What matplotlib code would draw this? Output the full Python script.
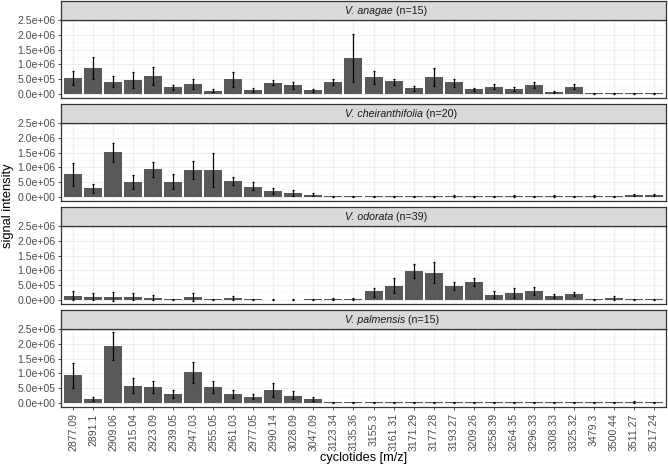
import numpy as np
import matplotlib
matplotlib.use("Agg")
import matplotlib.pyplot as plt
from matplotlib.ticker import FixedLocator, FuncFormatter

plt.rcParams['font.family'] = ['Liberation Sans', 'DejaVu Sans']

# m/z categories
cyclotides = ["2877.09", "2891.1", "2909.06", "2915.04", "2923.09", "2939.05",
              "2947.03", "2955.05", "2961.03", "2977.05", "2990.14", "3028.09",
              "3047.09", "3123.34", "3135.36", "3155.3", "3161.31", "3171.29",
              "3177.28", "3193.27", "3209.26", "3258.39", "3264.35", "3296.33",
              "3308.33", "3325.32", "3479.3", "3500.44", "3511.27", "3517.24"]

species = ["V. anagae", "V. cheiranthifolia", "V. odorata", "V. palmensis"]
n_samples = [15, 20, 39, 15]

# mean signal, lower / upper error (units of 1e6)
anagae_mean = [0.545, 0.875, 0.40, 0.466, 0.60, 0.216, 0.32, 0.10, 0.49, 0.136,
               0.375, 0.284, 0.114, 0.40, 1.216, 0.557, 0.42, 0.18, 0.58, 0.386,
               0.148, 0.24, 0.16, 0.295, 0.07, 0.24, 0.005, 0.005, 0.005, 0.005]
anagae_lo = [0.30, 0.50, 0.22, 0.18, 0.30, 0.125, 0.15, 0.05, 0.24, 0.07,
             0.28, 0.17, 0.06, 0.28, 0.41, 0.33, 0.30, 0.10, 0.27, 0.24,
             0.09, 0.15, 0.08, 0.18, 0.034, 0.14, -0.01, -0.01, -0.01, -0.01]
anagae_hi = [0.77, 1.25, 0.59, 0.75, 0.90, 0.30, 0.49, 0.16, 0.72, 0.20,
             0.47, 0.40, 0.17, 0.51, 2.02, 0.77, 0.50, 0.25, 0.86, 0.50,
             0.19, 0.32, 0.22, 0.40, 0.10, 0.33, 0.02, 0.02, 0.02, 0.02]

cheir_mean = [0.776, 0.285, 1.507, 0.514, 0.925, 0.50, 0.91, 0.91, 0.536, 0.343,
              0.183, 0.114, 0.068, 0.005, 0.005, 0.005, 0.005, 0.01, 0.005, 0.02,
              0.005, 0.005, 0.02, 0.005, 0.02, 0.005, 0.03, 0.005, 0.05, 0.04]
cheir_lo = [0.365, 0.125, 1.19, 0.26, 0.66, 0.25, 0.605, 0.33, 0.40, 0.21,
            0.08, 0.034, 0.03, -0.01, -0.01, -0.01, -0.01, -0.01, -0.01, -0.01,
            -0.01, -0.01, -0.01, -0.01, -0.01, -0.01, 0.0, -0.01, 0.02, 0.01]
cheir_hi = [1.15, 0.445, 1.84, 0.75, 1.19, 0.76, 1.20, 1.49, 0.66, 0.50,
            0.31, 0.217, 0.11, 0.02, 0.02, 0.02, 0.02, 0.03, 0.02, 0.05,
            0.02, 0.02, 0.05, 0.02, 0.05, 0.02, 0.06, 0.02, 0.08, 0.08]

odorata_mean = [0.137, 0.08, 0.10, 0.09, 0.057, 0.01, 0.08, 0.01, 0.046, 0.005,
                0.003, 0.003, 0.01, 0.02, 0.02, 0.285, 0.47, 0.97, 0.913, 0.47,
                0.616, 0.17, 0.228, 0.308, 0.126, 0.183, 0.01, 0.057, 0.005, 0.005]
odorata_lo = [-0.03, -0.03, -0.05, -0.02, -0.01, -0.01, -0.05, -0.01, 0.0, -0.01,
              -0.01, -0.01, -0.01, 0.0, 0.0, 0.10, 0.22, 0.74, 0.56, 0.34,
              0.48, 0.057, 0.057, 0.16, 0.057, 0.114, -0.01, 0.0, -0.01, -0.01]
odorata_hi = [0.31, 0.22, 0.25, 0.22, 0.15, 0.03, 0.22, 0.03, 0.137, 0.02,
              0.02, 0.02, 0.03, 0.05, 0.05, 0.40, 0.72, 1.22, 1.27, 0.59,
              0.75, 0.285, 0.40, 0.445, 0.18, 0.25, 0.03, 0.137, 0.02, 0.02]

palm_mean = [0.936, 0.137, 1.918, 0.571, 0.548, 0.297, 1.04, 0.548, 0.308, 0.205,
             0.434, 0.24, 0.126, 0.005, 0.005, 0.005, 0.005, 0.01, 0.005, 0.005,
             0.005, 0.005, 0.005, 0.005, 0.005, 0.005, 0.005, 0.005, 0.02, 0.005]
palm_lo = [0.514, 0.07, 1.44, 0.32, 0.34, 0.17, 0.67, 0.33, 0.17, 0.114,
           0.205, 0.114, 0.07, -0.01, -0.01, -0.01, -0.01, -0.01, -0.01, -0.01,
           -0.01, -0.01, -0.01, -0.01, -0.01, -0.01, -0.01, -0.01, 0.0, -0.01]
palm_hi = [1.336, 0.205, 2.41, 0.845, 0.753, 0.42, 1.39, 0.753, 0.445, 0.297,
           0.66, 0.40, 0.18, 0.02, 0.02, 0.02, 0.02, 0.03, 0.02, 0.02,
           0.02, 0.02, 0.02, 0.02, 0.02, 0.02, 0.02, 0.02, 0.04, 0.02]

series = [(anagae_mean, anagae_lo, anagae_hi),
          (cheir_mean, cheir_lo, cheir_hi),
          (odorata_mean, odorata_lo, odorata_hi),
          (palm_mean, palm_lo, palm_hi)]

W, H = 668, 469
fig = plt.figure(figsize=(W / 100, H / 100), dpi=100)

x = np.arange(len(cyclotides))
left, right = 61, 666
strip_h, panel_h, step = 19, 78, 103
top0 = 1

for k, (sp, n, (m, lo, hi)) in enumerate(zip(species, n_samples, series)):
    s_top = top0 + k * step
    p_top = s_top + strip_h
    ax = fig.add_axes([left / W, 1 - (p_top + panel_h) / H, (right - left) / W, panel_h / H])
    sax = fig.add_axes([left / W, 1 - p_top / H, (right - left) / W, strip_h / H])

    m = np.array(m) * 1e6
    lo = np.array(lo) * 1e6
    hi = np.array(hi) * 1e6
    ax.bar(x, m, width=0.9, color='#595959', zorder=2)
    ax.errorbar(x, m, yerr=[m - lo, hi - m], fmt='none', ecolor='black',
                elinewidth=0.9, capsize=1.0, capthick=0.9, zorder=3)

    ax.set_xlim(-0.6, len(cyclotides) - 0.4)
    ax.set_ylim(-0.15e6, 2.51e6)
    ax.yaxis.set_major_locator(FixedLocator([0, 0.5e6, 1e6, 1.5e6, 2e6, 2.5e6]))
    ax.yaxis.set_minor_locator(FixedLocator([0.25e6, 0.75e6, 1.25e6, 1.75e6, 2.25e6]))
    ax.yaxis.set_major_formatter(FuncFormatter(lambda v, p: f"{v:.1e}"))
    ax.set_xticks(x)
    ax.grid(True, which='major', color='#EBEBEB', linewidth=0.6, zorder=0)
    ax.grid(True, which='minor', axis='y', color='#F4F4F4', linewidth=0.4, zorder=0)
    ax.set_axisbelow(True)
    for spn in ax.spines.values():
        spn.set_color('#333333')
        spn.set_linewidth(0.9)
    ax.tick_params(axis='y', which='major', length=2.5, width=0.6, color='#333333',
                   labelsize=7.6, labelcolor='#4D4D4D', pad=1.5)
    ax.tick_params(axis='y', which='minor', length=0)
    if k < 3:
        ax.tick_params(axis='x', length=0, labelbottom=False)
    else:
        ax.set_xticklabels(cyclotides, rotation=90)
        ax.tick_params(axis='x', length=2.5, width=0.6, color='#333333',
                       labelsize=7.6, labelcolor='#4D4D4D', pad=2)

    sax.set_facecolor('#D9D9D9')
    sax.set_xticks([])
    sax.set_yticks([])
    for spn in sax.spines.values():
        spn.set_color('#333333')
        spn.set_linewidth(0.9)
    t1 = sax.text((345 - left) / (right - left), 0.5, sp, style='italic',
                  transform=sax.transAxes, ha='left', va='center',
                  fontsize=7.7, color='#1A1A1A')
    sax.annotate(f" (n={n})", xy=(1, 0.5), xycoords=t1, ha='left', va='center',
                 fontsize=7.7, color='#1A1A1A')

fig.text(8 / W, 1 - 206 / H, "signal intensity", rotation=90, ha='center',
         va='center', fontsize=9.3)
fig.text((left + right) / 2 / W, 1 - 458 / H, "cyclotides [m/z]", ha='center',
         va='center', fontsize=9.2)

fig.savefig("out.png", dpi=100)
